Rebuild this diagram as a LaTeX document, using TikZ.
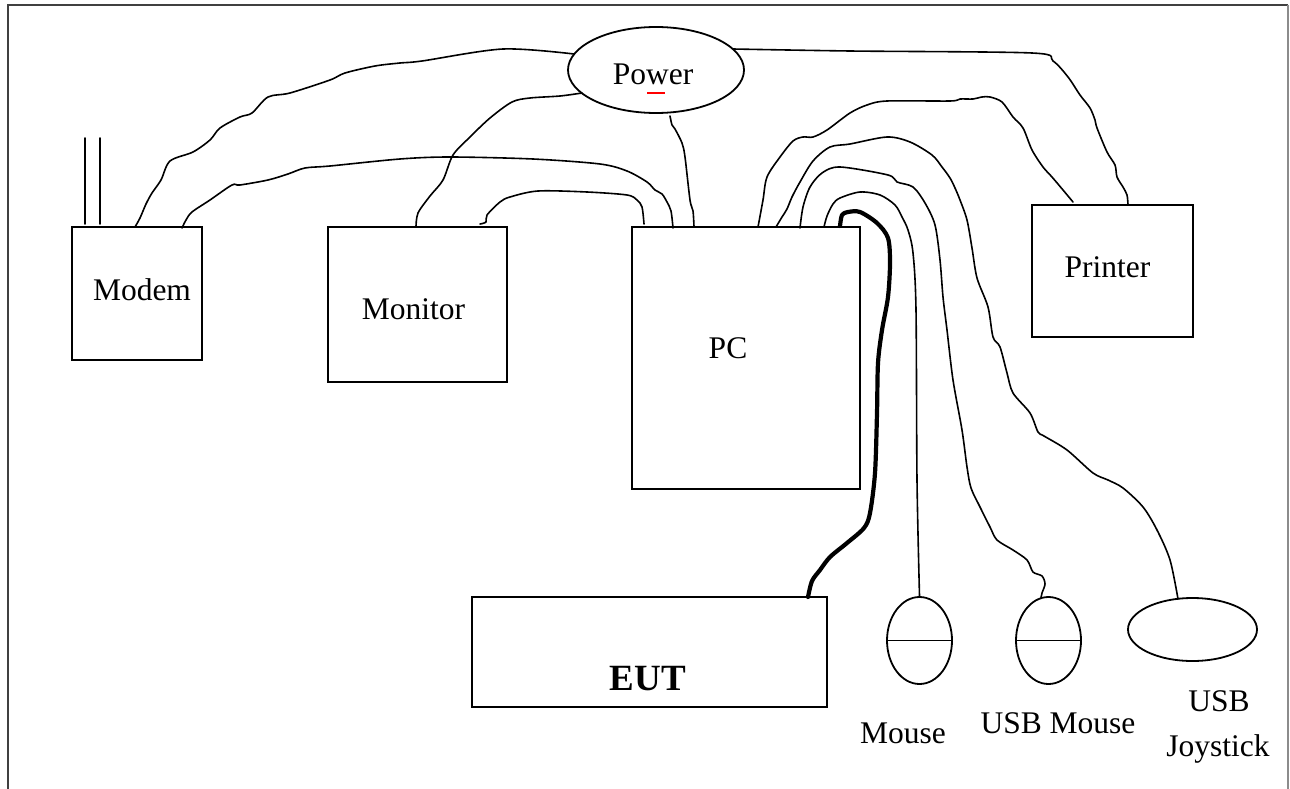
\documentclass[tikz,border=0pt]{standalone}
\usepackage{fontspec}
\setmainfont{Liberation Serif}
\usetikzlibrary{shapes.geometric}
\begin{document}
\begin{tikzpicture}[x=1pt,y=-1pt,
  box/.style={draw=black, line width=1.8pt, inner sep=0pt, fill=white},
  oval/.style={ellipse, draw=black, line width=1.8pt, inner sep=0pt},
  lbl/.style={font=\fontsize{31.5}{38}\selectfont, inner sep=0pt, anchor=base},
  cable/.style={line width=1.6pt, line join=round, line cap=round},
  thickcable/.style={line width=4.2pt, line join=round, line cap=round},
  frame/.style={line width=1.8pt, draw=black!75}]
\useasboundingbox (0,0) rectangle (1290,789);
% frame (open at the bottom)
\draw[frame] (8,789) -- (8,5) -- (1288,5);
\draw[line width=1.8pt, draw=black!45] (1288,5) -- (1288,789);

% devices
\node[box, minimum width=130pt, minimum height=133pt] (modem) at (137,293.5) {};
\node[box, minimum width=179pt, minimum height=155pt] (monitor) at (417.5,304.5) {};
\node[box, minimum width=228pt, minimum height=262pt] (pc) at (746,358) {};
\node[box, minimum width=161pt, minimum height=132pt] (printer) at (1112.5,271) {};
\node[box, minimum width=355pt, minimum height=110pt] (eut) at (649.5,652) {};
\node[oval, minimum width=176pt, minimum height=86pt] (power) at (656,70) {};
\node[oval, minimum width=65pt, minimum height=87pt] (mouse) at (919.5,640.5) {};
\node[oval, minimum width=65pt, minimum height=87pt] (usbmouse) at (1048.5,640.5) {};
\node[oval, minimum width=129pt, minimum height=63pt] (joystick) at (1192.5,629.5) {};
\draw[line width=1.8pt] (mouse.west) -- (mouse.east);
\draw[line width=1.8pt] (usbmouse.west) -- (usbmouse.east);

% texts
\node[lbl] (modemT) at (142,300) {Modem};
\node[lbl] (monitorT) at (413.5,319) {Monitor};
\node[lbl] (pcT) at (728,358) {PC};
\node[lbl] (printerT) at (1107.5,277) {Printer};
\node[lbl, font=\fontsize{37}{44}\selectfont\bfseries] (eutT) at (648,690) {EUT};
\node[lbl] (powerT) at (653,85) {Power};
\draw[red, line width=2.5pt] (647,93) -- (665,93);
\node[lbl] (mouseT) at (903,743) {Mouse};
\node[lbl] (usbmouseT) at (1058,733) {USB Mouse};
\node[lbl] (usbT) at (1219,711) {USB};
\node[lbl] (joyT) at (1218,756) {Joystick};

% antenna
\coordinate (antA) at (85,224);
\coordinate (antB) at (100,224);
\draw[cable] (antA) -- ++(0,-86);
\draw[cable] (antB) -- ++(0,-86);

% cable end points
\coordinate (mdP) at (135,227);
\coordinate (mdC) at (182,228);
\coordinate (moP) at (416,227);
\coordinate (moC) at (480,224);
\coordinate (pcM1) at (644,224);
\coordinate (pcM2) at (673,228);
\coordinate (pcP) at (694,227);
\coordinate (pcPr) at (758,227);
\coordinate (pcJ) at (776,227);
\coordinate (pcU) at (800,228);
\coordinate (pcMs) at (824,227);
\coordinate (pcE) at (840,226);
\coordinate (pwMd) at (574,54);
\coordinate (pwMo) at (582,93);
\coordinate (pwPc) at (670,116);
\coordinate (pwPr) at (733,49);
\coordinate (prP) at (1128,205);
\coordinate (prC) at (1073,202);
\coordinate (jsT) at (1178,599);
\coordinate (umT) at (1041,598);
\coordinate (msT) at (mouse.north);
\coordinate (euT) at (808,597);

% power cables
\draw[cable] plot[smooth, tension=0.5] coordinates {(mdP) (140,218) (146,204) (152,193) (161,180) (170,161) (193,152) (210,140) (220,128) (240,117) (252,113) (268,97) (290,93) (330,80) (345,73) (375,66) (400,63) (422,61) (503,49) (pwMd)};
\draw[cable] plot[smooth, tension=0.5] coordinates {(pwMo) (560,96) (530,98) (512,102) (490,118) (470,137) (453,155) (443,180) (430,196) (418,213) (moP)};
\draw[cable] plot[smooth, tension=0.5] coordinates {(pwPc) (672,125) (675,129) (682,143) (685,157) (690,200) (693,211) (pcP)};
\draw[cable] plot[smooth, tension=0.5] coordinates {(pwPr) (850,51) (1032,53) (1053,61) (1068,77) (1080,95) (1090,108) (1095,120) (1097,128) (1107,152) (1115,165) (1117,177) (1123,187) (1127,195) (prP)};

% modem / monitor to PC
\draw[cable] plot[smooth, tension=0.5] coordinates {(mdC) (186,220) (192,212) (210,200) (232,185) (240,185) (268,180) (288,174) (305,168) (330,166) (400,159) (450,157) (533,159) (600,164) (627,171) (647,182) (655,190) (662,194) (667,202) (671,211) (pcM2)};
\draw[cable] plot[smooth, tension=0.5] coordinates {(moC) (486,222) (487,215) (500,202) (510,197) (538,191) (587,192) (627,195) (637,200) (642,207) (pcM1)};

% PC to printer
\draw[cable] plot[smooth, tension=0.5] coordinates {(pcPr) (763,200) (767,177) (780,157) (793,141) (803,137) (813,137) (827,130) (850,113) (867,105) (887,101) (950,101) (960,99) (973,99) (982,97) (990,97) (1002,102) (1013,117) (1023,128) (1032,150) (1043,167) (1052,177) (1063,190) (prC)};

% PC to joystick
\draw[cable] plot[smooth, tension=0.5] coordinates {(pcJ) (782,217) (787,209) (792,197) (800,182) (813,161) (830,147) (850,144) (887,137) (910,142) (932,155) (942,167) (950,178) (955,188) (960,200) (967,220) (972,248) (977,278) (988,307) (993,337) (1000,347) (1007,373) (1013,393) (1030,413) (1038,432) (1044,436) (1067,450) (1093,473) (1108,480) (1123,488) (1143,507) (1157,530) (1170,560) (jsT)};

% PC to USB mouse
\draw[cable] plot[smooth, tension=0.5] coordinates {(pcU) (803,207) (810,187) (822,173) (840,167) (888,175) (897,182) (913,187) (925,203) (935,225) (940,260) (943,297) (947,330) (953,380) (962,430) (967,467) (971,488) (980,507) (990,527) (997,540) (1013,550) (1027,560) (1033,572) (1042,576) (1045,584) (1042,593) (umT)};

% PC to mouse
\draw[cable] plot[smooth, tension=0.5] coordinates {(pcMs) (827,216) (833,204) (840,198) (860,192) (880,195) (895,205) (902,217) (908,230) (913,253) (916,310) (917,480) (msT)};

% PC to EUT (thick)
\draw[thickcable] plot[smooth, tension=0.5] coordinates {(pcE) (842,215) (848,212) (860,212) (877,223) (888,238) (890,263) (888,297) (882,330) (878,363) (877,413) (875,473) (870,513) (864,528) (847,543) (830,557) (820,570) (812,581) (euT)};
\end{tikzpicture}
\end{document}
